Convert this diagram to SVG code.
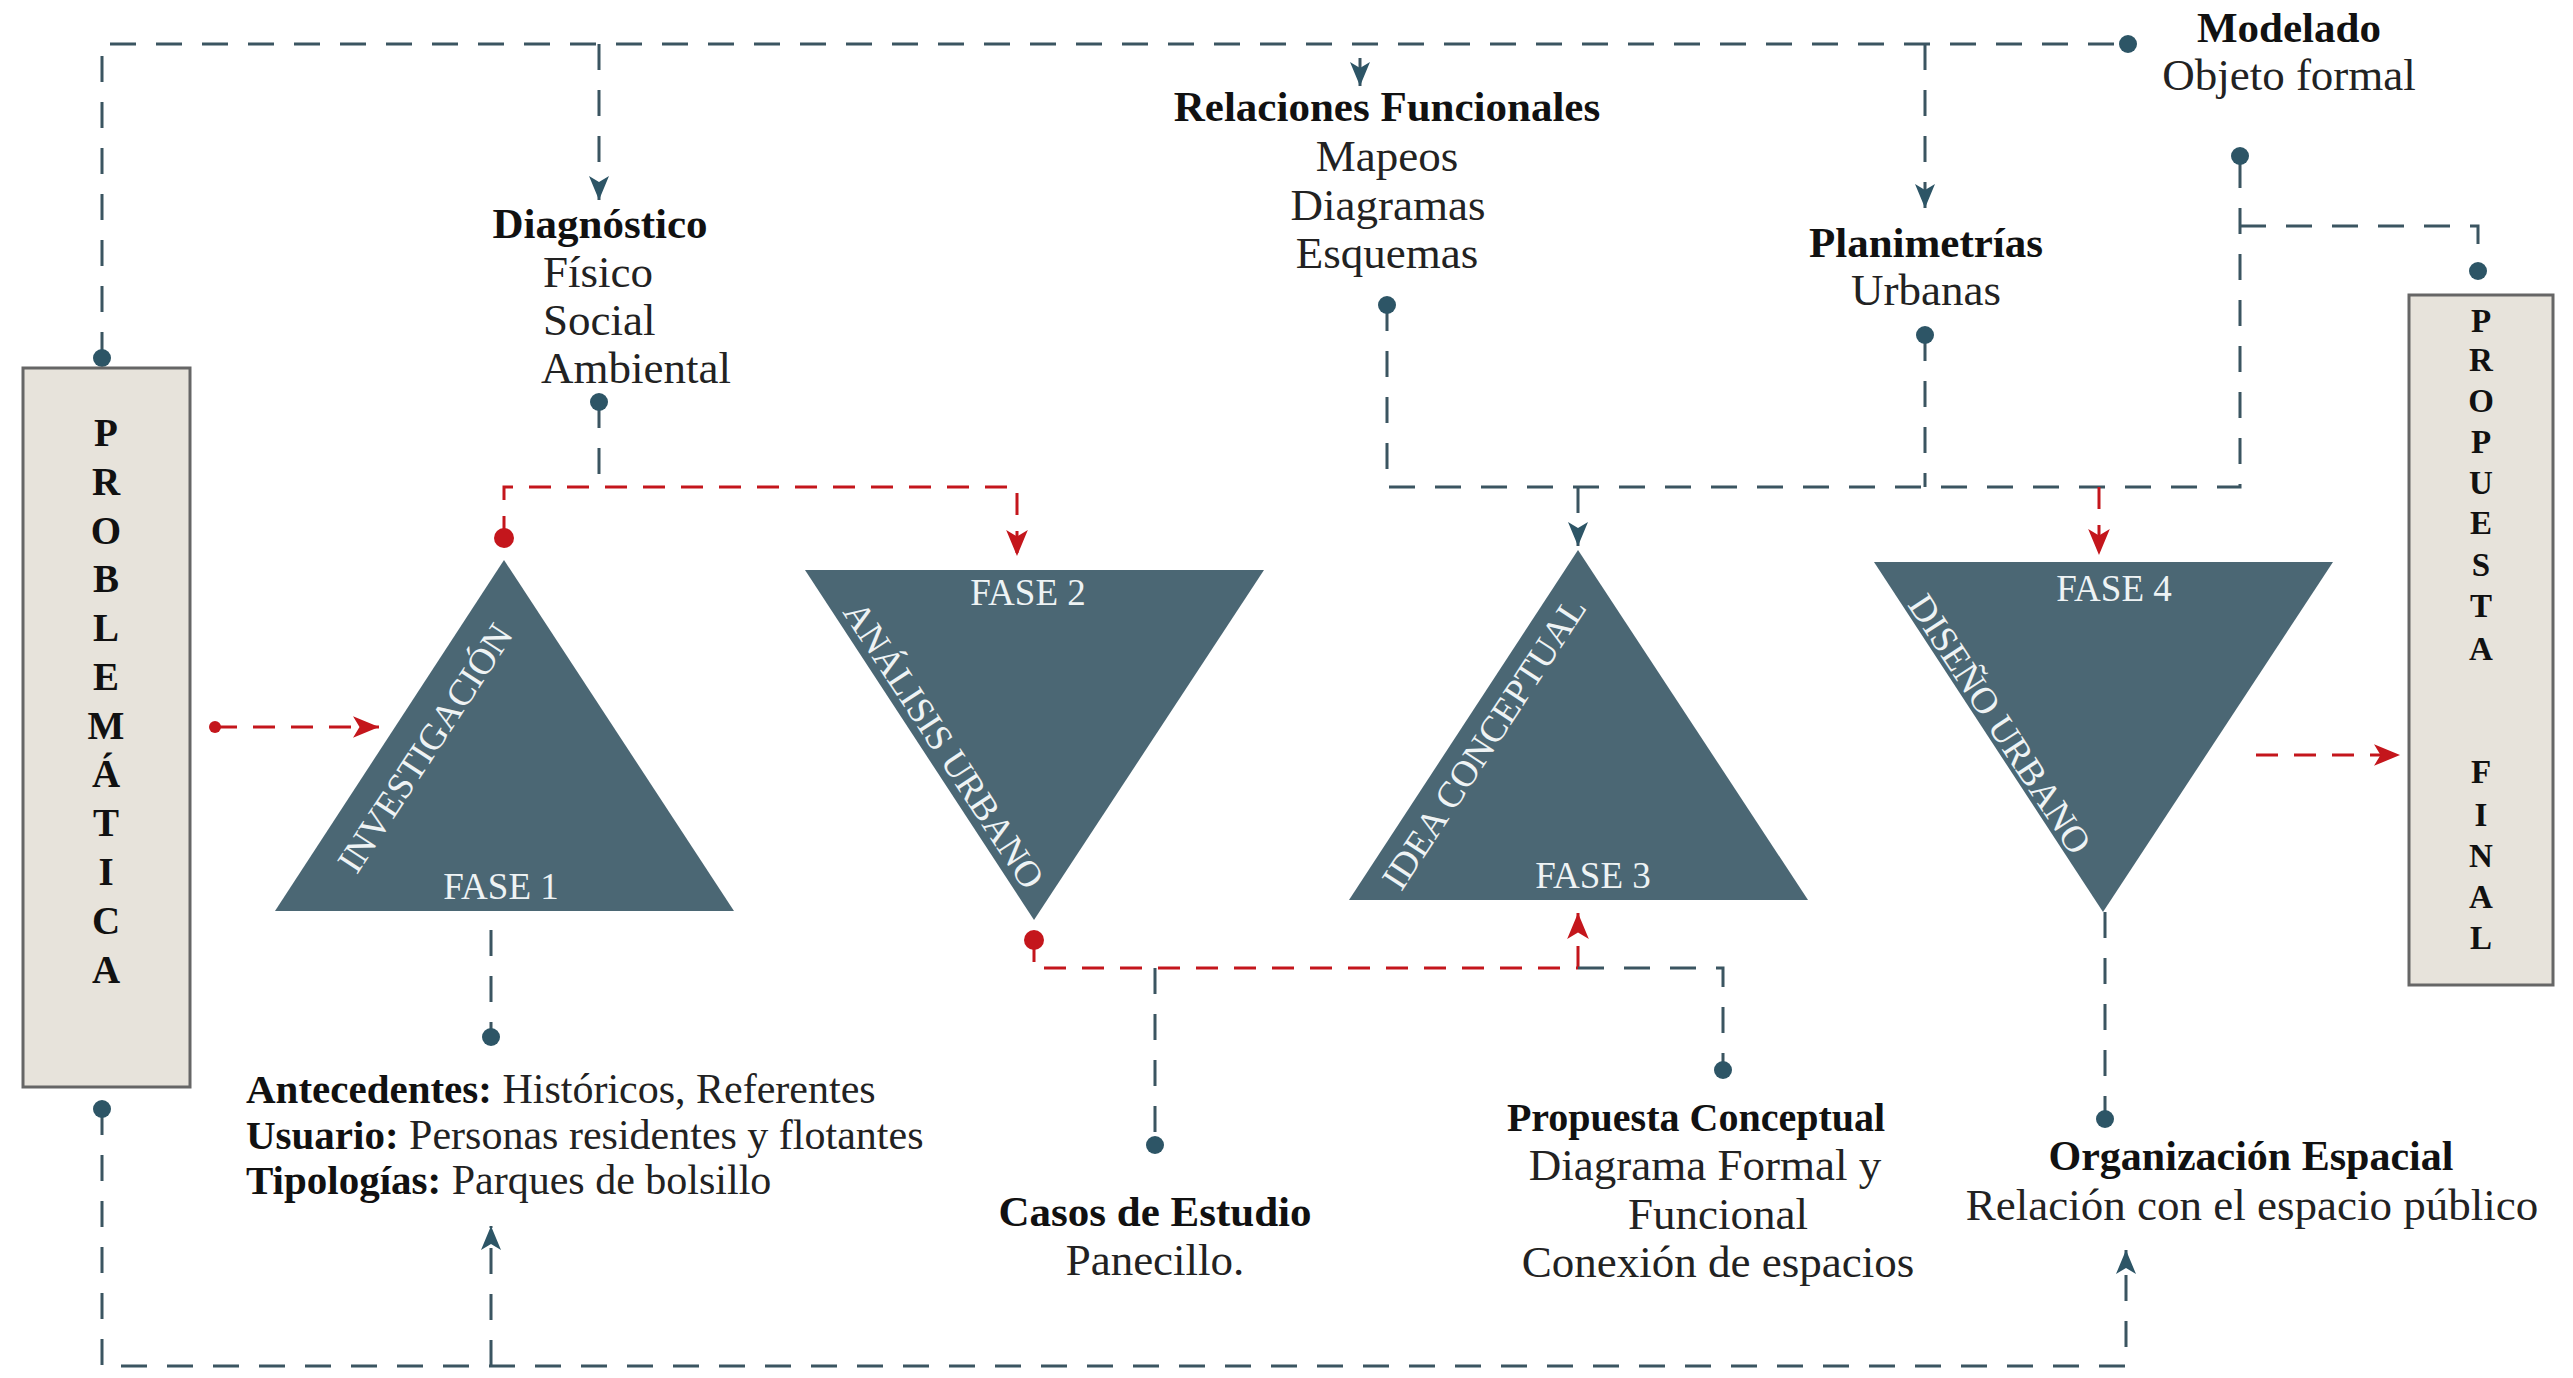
<svg xmlns="http://www.w3.org/2000/svg" width="2573" height="1378" viewBox="0 0 2573 1378">
<defs>
<style>
.bg{fill:#ffffff}
.box{fill:#e7e3db;stroke:#666;stroke-width:3}
.tri{fill:#4b6774}
.dk{fill:none;stroke:#3b5561;stroke-width:3;stroke-dasharray:26 20}
.rd{fill:none;stroke:#c4161c;stroke-width:3;stroke-dasharray:22 16}
.dot{fill:#2d5566}
.rdot{fill:#c4161c}
.b{font-family:"Liberation Serif",serif;font-weight:bold;font-size:43px;fill:#111}
.r{font-family:"Liberation Serif",serif;font-size:45px;fill:#222}
.c{text-anchor:middle}
.w{font-family:"Liberation Serif",serif;font-size:37px;fill:#eef3f4;text-anchor:middle}
.lt{font-family:"Liberation Serif",serif;font-weight:bold;font-size:39px;fill:#111;text-anchor:middle}
.lf{font-family:"Liberation Serif",serif;font-weight:bold;font-size:33px;fill:#111;text-anchor:middle}
</style>
<marker id="ad" markerUnits="userSpaceOnUse" viewBox="0 0 24 24" markerWidth="24" markerHeight="24" refX="24" refY="12" orient="auto">
<path d="M0,2 L24,12 L0,22 L6,12 z" fill="#2d5566"/>
</marker>
<marker id="ar" markerUnits="userSpaceOnUse" viewBox="0 0 24 24" markerWidth="26" markerHeight="26" refX="24" refY="12" orient="auto">
<path d="M0,2 L24,12 L0,22 L6,12 z" fill="#c4161c"/>
</marker>
</defs>
<rect class="bg" x="0" y="0" width="2573" height="1378"/>

<g id="connectors">
<path class="dk" d="M102 358 V44 H2128"/>
<path class="dk" d="M599 44 V200" marker-end="url(#ad)"/>
<path class="dk" d="M1925 44 V208" marker-end="url(#ad)"/>
<path d="M1360 58 V86" fill="none" stroke="#3b5561" stroke-width="3" marker-end="url(#ad)"/>
<path class="dk" d="M599 402 V487"/>
<path class="dk" d="M1387 305 V487 H2240 V156"/>
<path class="dk" d="M2240 226 H2478 V271"/>
<path class="dk" d="M1925 335 V487"/>
<path class="dk" d="M1578 487 V546" marker-end="url(#ad)"/>
<path class="rd" d="M504 538 V487 H1017 V556" marker-end="url(#ar)"/>
<path class="rd" d="M2099 487 V555" marker-end="url(#ar)"/>
<path class="rd" d="M215 727 H379" marker-end="url(#ar)"/>
<path class="rd" d="M2256 755 H2400" marker-end="url(#ar)"/>
<path class="rd" d="M1034 940 V968 H1578"/>
<path class="rd" d="M1578 968 V913" marker-end="url(#ar)"/>
<path class="dk" d="M1578 968 H1723 V1070"/>
<path class="dk" d="M1155 968 V1145"/>
<path class="dk" d="M491 930 V1037"/>
<path class="dk" d="M2105 912 V1119"/>
<path class="dk" d="M102 1109 V1366 H2126 V1250" marker-end="url(#ad)"/>
<path class="dk" d="M491 1366 V1226" marker-end="url(#ad)"/>
<circle class="dot" cx="102" cy="358" r="9"/>
<circle class="dot" cx="102" cy="1109" r="9"/>
<circle class="dot" cx="599" cy="402" r="9"/>
<circle class="dot" cx="1387" cy="305" r="9"/>
<circle class="dot" cx="1925" cy="335" r="9"/>
<circle class="dot" cx="2128" cy="44" r="9"/>
<circle class="dot" cx="2240" cy="156" r="9"/>
<circle class="dot" cx="2478" cy="271" r="9"/>
<circle class="dot" cx="491" cy="1037" r="9"/>
<circle class="dot" cx="1155" cy="1145" r="9"/>
<circle class="dot" cx="1723" cy="1070" r="9"/>
<circle class="dot" cx="2105" cy="1119" r="9"/>
<circle class="rdot" cx="504" cy="538" r="10"/>
<circle class="rdot" cx="1034" cy="940" r="10"/>
<circle class="rdot" cx="215" cy="727" r="6"/>
</g>

<g id="problematica">
<rect class="box" x="23" y="368" width="167" height="719"/>
<text class="lt" x="106" y="446">P</text>
<text class="lt" x="106" y="495">R</text>
<text class="lt" x="106" y="544">O</text>
<text class="lt" x="106" y="592">B</text>
<text class="lt" x="106" y="641">L</text>
<text class="lt" x="106" y="690">E</text>
<text class="lt" x="106" y="739">M</text>
<text class="lt" x="106" y="787">Á</text>
<text class="lt" x="106" y="836">T</text>
<text class="lt" x="106" y="885">I</text>
<text class="lt" x="106" y="934">C</text>
<text class="lt" x="106" y="983">A</text>
</g>

<g id="propuesta-final">
<rect class="box" x="2409" y="295" width="144" height="690"/>
<text class="lf" x="2481" y="332">P</text>
<text class="lf" x="2481" y="371">R</text>
<text class="lf" x="2481" y="412">O</text>
<text class="lf" x="2481" y="453">P</text>
<text class="lf" x="2481" y="494">U</text>
<text class="lf" x="2481" y="534">E</text>
<text class="lf" x="2481" y="576">S</text>
<text class="lf" x="2481" y="617">T</text>
<text class="lf" x="2481" y="660">A</text>
<text class="lf" x="2481" y="783">F</text>
<text class="lf" x="2481" y="826">I</text>
<text class="lf" x="2481" y="867">N</text>
<text class="lf" x="2481" y="908">A</text>
<text class="lf" x="2481" y="949">L</text>
</g>

<g id="fase1">
<polygon class="tri" points="504,560 275,911 734,911"/>
<text class="w" x="501" y="899">FASE 1</text>
<text class="w" x="0" y="0" dominant-baseline="central" transform="translate(425,748) rotate(-56.8)">INVESTIGACIÓN</text>
</g>

<g id="fase2">
<polygon class="tri" points="805,570 1264,570 1034,920"/>
<text class="w" x="1028" y="605">FASE 2</text>
<text class="w" x="0" y="0" dominant-baseline="central" transform="translate(944,745) rotate(56.8)">ANÁLISIS URBANO</text>
</g>

<g id="fase3">
<polygon class="tri" points="1578,550 1349,900 1808,900"/>
<text class="w" x="1593" y="888">FASE 3</text>
<text class="w" x="0" y="0" dominant-baseline="central" transform="translate(1484,743) rotate(-56.8)">IDEA CONCEPTUAL</text>
</g>

<g id="fase4">
<polygon class="tri" points="1874,562 2333,562 2103,912"/>
<text class="w" x="2114" y="601">FASE 4</text>
<text class="w" x="0" y="0" dominant-baseline="central" transform="translate(2000,724) rotate(56.8)">DISEÑO URBANO</text>
</g>

<g id="diagnostico">
<text class="b c" x="600" y="238">Diagnóstico</text>
<text class="r" x="543" y="287">Físico</text>
<text class="r" x="543" y="335">Social</text>
<text class="r" x="541" y="383">Ambiental</text>
</g>

<g id="relaciones">
<text class="b c" x="1387" y="121">Relaciones Funcionales</text>
<text class="r c" x="1387" y="171">Mapeos</text>
<text class="r c" x="1388" y="220">Diagramas</text>
<text class="r c" x="1387" y="268">Esquemas</text>
</g>

<g id="planimetrias">
<text class="b c" x="1926" y="257">Planimetrías</text>
<text class="r c" x="1926" y="305">Urbanas</text>
</g>

<g id="modelado">
<text class="b c" x="2289" y="42">Modelado</text>
<text class="r c" x="2289" y="90">Objeto formal</text>
</g>

<g id="antecedentes">
<text x="246" y="1103"><tspan class="b" style="font-size:41px">Antecedentes:</tspan><tspan class="r" style="font-size:42px"> Históricos, Referentes</tspan></text>
<text x="246" y="1149"><tspan class="b" style="font-size:41px">Usuario:</tspan><tspan class="r" style="font-size:42px"> Personas residentes y flotantes</tspan></text>
<text x="246" y="1194"><tspan class="b" style="font-size:41px">Tipologías:</tspan><tspan class="r" style="font-size:42px"> Parques de bolsillo</tspan></text>
</g>

<g id="casos">
<text class="b c" x="1155" y="1226">Casos de Estudio</text>
<text class="r c" x="1155" y="1275">Panecillo.</text>
</g>

<g id="propuesta-conceptual">
<text class="b c" x="1696" y="1131" style="font-size:40px">Propuesta Conceptual</text>
<text class="r c" x="1705" y="1180">Diagrama Formal y</text>
<text class="r c" x="1718" y="1229">Funcional</text>
<text class="r c" x="1718" y="1277">Conexión de espacios</text>
</g>

<g id="organizacion">
<text class="b c" x="2251" y="1170" style="font-size:42px">Organización Espacial</text>
<text class="r c" x="2252" y="1220">Relación con el espacio público</text>
</g>
</svg>
